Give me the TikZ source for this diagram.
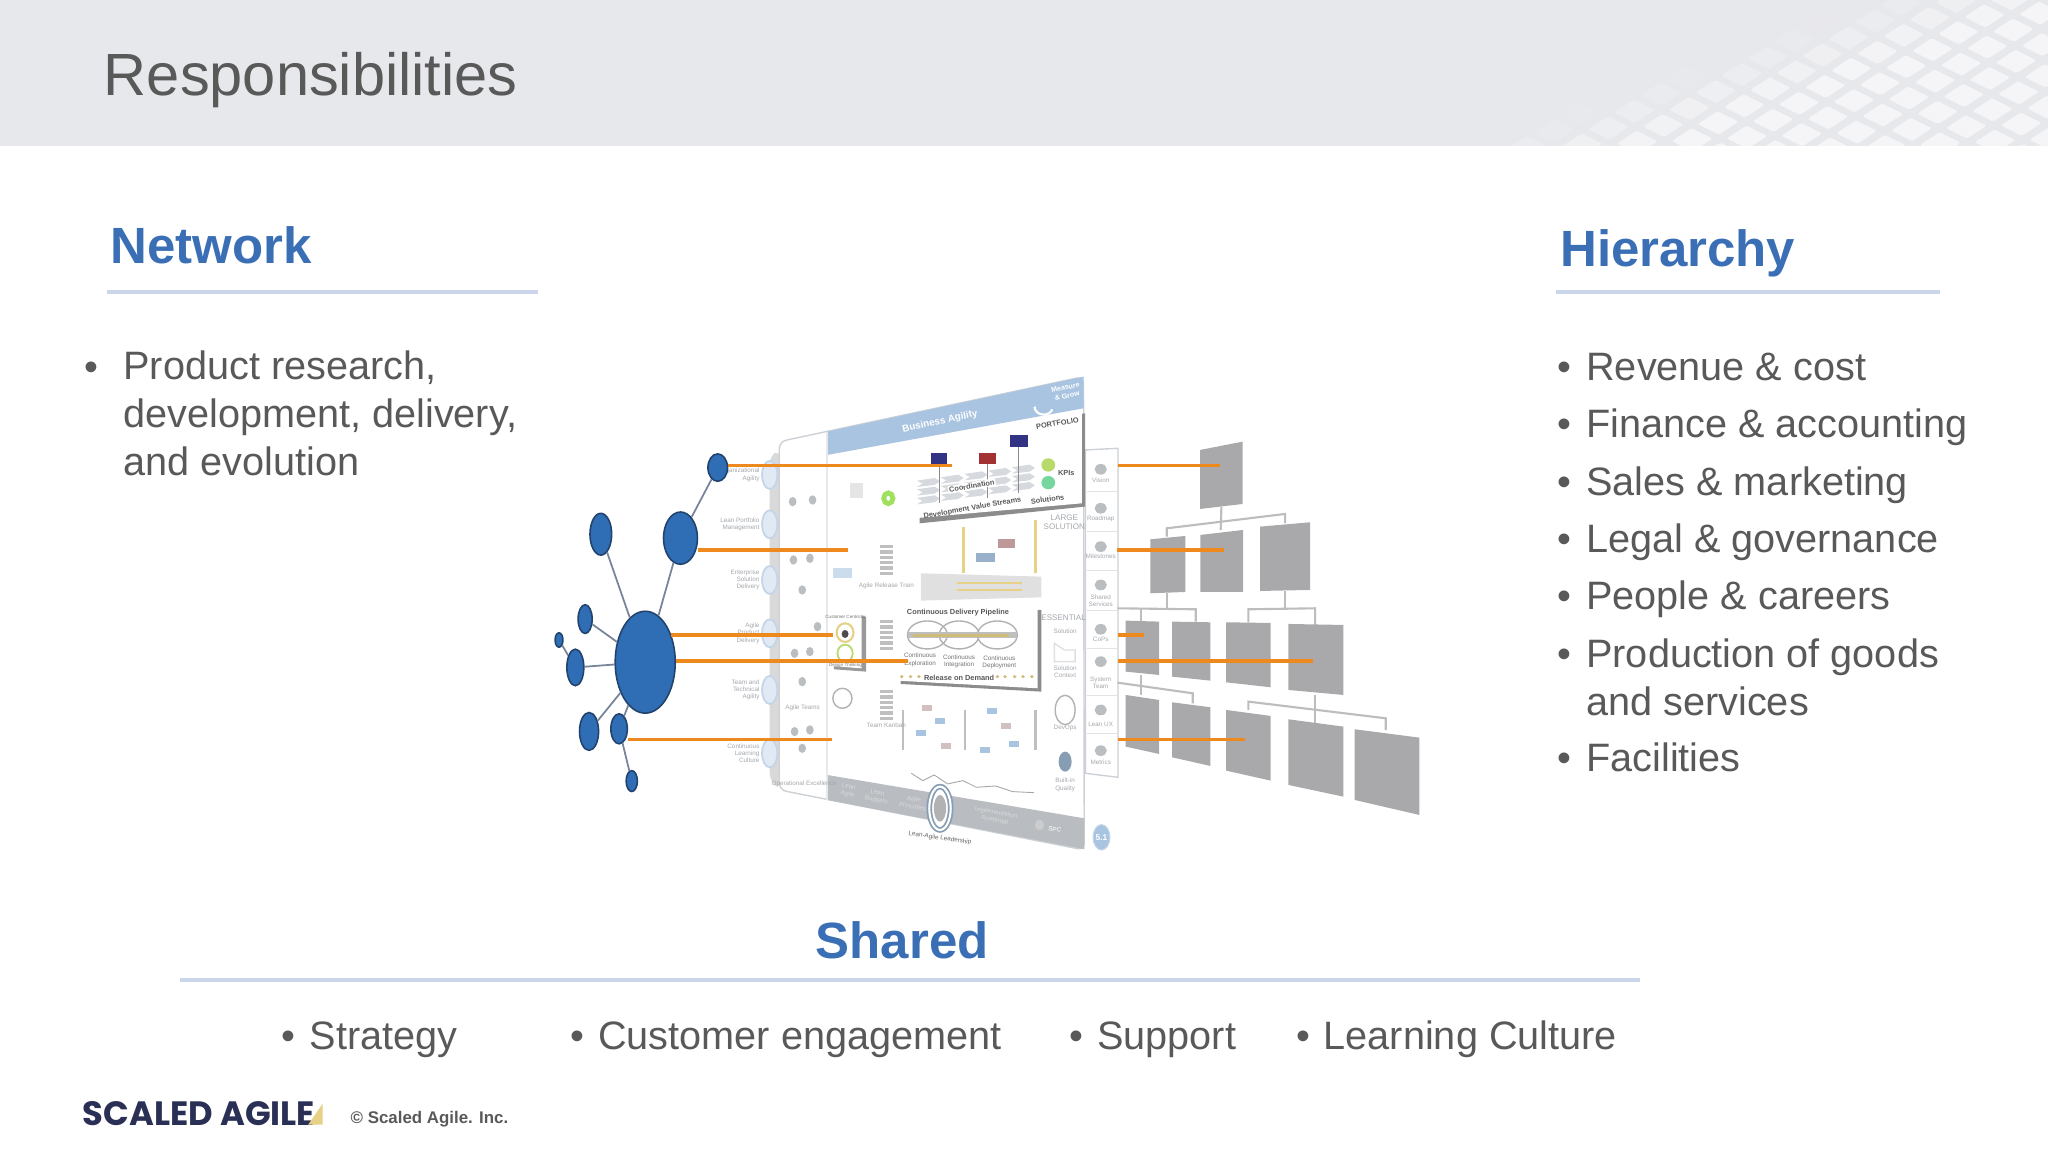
\documentclass[tikz,border=0pt]{standalone}
\usepackage{fontspec}
\setmainfont{Liberation Sans}
\newfontfamily\logofont{Poppins}
\usetikzlibrary{calc}
\usetikzlibrary{shapes.geometric}

\definecolor{headgrey}{HTML}{E7E8EC}
\definecolor{bodygrey}{HTML}{595959}
\definecolor{headblue}{HTML}{3A6EB5}
\definecolor{rulecol}{HTML}{CBD6EA}
\definecolor{netblue}{HTML}{2F6DB5}
\definecolor{netdark}{HTML}{21436E}
\definecolor{netedge}{HTML}{77849A}
\definecolor{linkorange}{HTML}{EE8A1D}
\definecolor{orggrey}{HTML}{A9A9AB}
\definecolor{orgline}{HTML}{BDBDBF}
\definecolor{bannerblue}{HTML}{A9C4E0}
\definecolor{bannergrey}{HTML}{B9BCC1}
\definecolor{panelline}{HTML}{CDD1D6}
\definecolor{faintgrey}{HTML}{A4A8AD}
\definecolor{softgold}{HTML}{E6D186}
\definecolor{logonavy}{HTML}{2A2F55}

\tikzset{
  titletext/.style={anchor=base west, inner sep=0, text=bodygrey, font=\fontsize{16.95}{20}\selectfont},
  headtext/.style={anchor=base west, inner sep=0, text=headblue, font=\fontsize{14.5}{18}\selectfont\bfseries},
  bodytext/.style={anchor=base west, inner sep=0, text=bodygrey, align=left, font=\fontsize{11.28}{13.6}\selectfont},
  bulletmark/.style={anchor=base, inner sep=0, text=bodygrey, font=\fontsize{11.28}{13.6}\selectfont},
  headrule/.style={rulecol, line width=1.1pt},
  netnode/.style={ellipse, draw=netdark, fill=netblue, line width=.45pt, inner sep=0},
  netsize/.style 2 args={minimum width=#1*.3716pt, minimum height=#2*.3716pt},
  netlink/.style={netedge, line width=.5pt},
  linkline/.style={linkorange, line width=1pt},
  orgbox/.style={fill=orggrey},
  orgbus/.style={orgline, line width=.6pt},
  tinytext/.style={inner sep=0, text=faintgrey, align=center, font=\fontsize{1.8}{2.1}\selectfont},
  boxtext/.style={inner sep=0, text=black!65, align=center, font=\fontsize{2.1}{2.5}\selectfont\bfseries},
  paneledge/.style={draw=panelline, line width=.4pt},
  iconmark/.style={fill=faintgrey!75},
}

\begin{document}
\begin{tikzpicture}[x=0.013061cm,y=-0.013061cm]
\useasboundingbox (0,0) rectangle (1568,882);
\fill[white] (0,0) rectangle (1568,882);

% header band
\fill[headgrey] (0,0) rectangle (1568,112);
\begin{scope}
\clip (0,0) rectangle (1568,112);
\foreach \i in {-10,...,15}
\foreach \j in {-10,...,12}
{
\pgfmathsetmacro{\px}{1360+20*\i+22*\j}
\pgfmathsetmacro{\py}{56-13*\i+11*\j}
\pgfmathsetmacro{\op}{max(0,min(.6,(\px+2.7*\py-1420)/220))}
\fill[white, opacity=\op, rounded corners=.6pt] (\px,\py) -- ++(15,-9.8) -- ++(16,8) -- ++(-15,9.8) -- cycle;
}
\end{scope}

\node[titletext] (title) at (79,73) {Responsibilities};

\node[headtext] (network) at (84,202) {Network};
\node[headtext] (hierarchy) at (1194,204) {Hierarchy};
\node[headtext] (shared) at (624,733.5) {Shared};

\draw[headrule] (82,223.5) -- (412,223.5);
\draw[headrule] (1191,223.5) -- (1485,223.5);
\draw[headrule] (138,750) -- (1256,750);

% network column
\node[bulletmark] (bl) at (70,291) {•};
\node[bodytext] (netlist) at (94,364) {Product research,\\development, delivery,\\and evolution};

% hierarchy column
\node[bulletmark] (br1) at (1198,291) {•};
\node[bodytext] (hl1) at (1214,291) {Revenue \& cost};
\node[bulletmark] (br2) at (1198,335) {•};
\node[bodytext] (hl2) at (1214,335) {Finance \& accounting};
\node[bulletmark] (br3) at (1198,379) {•};
\node[bodytext] (hl3) at (1214,379) {Sales \& marketing};
\node[bulletmark] (br4) at (1198,423) {•};
\node[bodytext] (hl4) at (1214,423) {Legal \& governance};
\node[bulletmark] (br5) at (1198,467) {•};
\node[bodytext] (hl5) at (1214,467) {People \& careers};
\node[bulletmark] (br6) at (1198,511) {•};
\node[bodytext] (hl6) at (1214,547.5) {Production of goods\\and services};
\node[bulletmark] (br7) at (1198,591) {•};
\node[bodytext] (hl7) at (1214,591) {Facilities};

% shared row
\foreach \xb/\xt/\word [count=\n] in {221/236.5/Strategy, 442/457.5/Customer engagement, 824/839.5/Support, 998/1013/Learning Culture}
{
\node[bulletmark] (bs\n) at (\xb,803.5) {•};
\node[bodytext] (sl\n) at (\xt,803.5) {\word};
}

% footer
\node[anchor=base west, inner sep=0, text=logonavy, font=\logofont\fontsize{9.6}{11}\selectfont\bfseries] (logo) at (63,862) {SCALED AGILE};
\fill[softgold] (236,861) -- (247,845) -- (247,861) -- cycle;
\node[anchor=base west, inner sep=0, text=bodygrey, font=\fontsize{4.8}{6}\selectfont\bfseries] (copy) at (268,860.5) {© Scaled Agile. Inc.};

% framework panel
\begin{scope}[shift={(413.5,275.6)},xscale=.293,yscale=.2552]
\fill[black!15, rounded corners=2pt] (625,270) -- (600,290) -- (600,1260) -- (625,1290) -- cycle;
\filldraw[white, paneledge, rounded corners=2pt] (625,245) -- (1420,50) -- (1422,1470) -- (625,1290) -- cycle;
\fill[bannerblue] (750,215) -- (1420,50) -- (1420,145) -- (750,285) -- cycle;
\fill[bannergrey] (750,1245) -- (1422,1375) -- (1422,1468) -- (750,1320) -- cycle;
\draw[panelline!50] (750,215) -- (750,1320);

% side column
\filldraw[white, paneledge] (1425,270) -- (1510,265) -- (1510,1252) -- (1425,1240) -- cycle;
\foreach \y in {395,515,630,750,865,1005,1120}
\draw[panelline!60, line width=.25pt] (1428,\y) -- (1508,\y);
\foreach \y/\word in {362/Vision, 478/Roadmap, 588/Milestones, 722/{Shared\\Services}, 838/CoPs, 968/{System\\Team}, 1093/Lean UX, 1207/Metrics}
\node[tinytext] at (1465,\y) {\word};
\foreach \y in {328,445,560,675,808,905,1050,1172}
\fill[iconmark] (1465,\y) ellipse (16 and 16);

% competency rings
\foreach \y/\word in {345/{Organizational\\Agility}, 493/{Lean Portfolio\\Management}, 660/{Enterprise\\Solution\\Delivery}, 820/{Agile\\Product\\Delivery}, 990/{Team and\\Technical\\Agility}, 1180/{Continuous\\Learning\\Culture}}
{
\filldraw[fill=bannerblue!35, draw=bannerblue!70!white, line width=.5pt] (600,\y) ellipse (20 and 42);
\node[tinytext, anchor=east, align=right] at (575,\y) {\word};
}

% portfolio box
\fill[black!45] (992,262) -- (1424,160) -- (1424,440) -- (992,490) -- cycle;
\fill[white] (978,240) -- (1416,150) -- (1416,430) -- (978,475) -- cycle;
\foreach \r in {0,1,2}
\foreach \c in {0,...,4}
{
\pgfmathsetmacro{\cx}{985+62*\c}
\pgfmathsetmacro{\cy}{362-10*\c+26*\r}
\fill[bannerblue!55!black!25] (\cx,\cy) -- ++(46,-8) -- ++(14,10) -- ++(-14,11) -- ++(-46,6) -- ++(14,-10) -- cycle;
}
\draw[black!45, line width=.3pt] (1043,300) -- (1043,430);
\draw[black!45, line width=.3pt] (1170,300) -- (1170,415);
\draw[black!45, line width=.3pt] (1250,245) -- (1250,400);
\fill[blue!40!black!80] (1022,280) rectangle (1064,312);
\fill[red!55!black!80] (1148,278) rectangle (1192,312);
\fill[blue!40!black!80] (1228,225) rectangle (1276,262);
\node[boxtext, rotate=10] at (1352,190) {PORTFOLIO};
\node[boxtext] at (1375,340) {KPIs};
\node[boxtext, rotate=8] at (1326,418) {Solutions};
\node[boxtext, rotate=10] at (1130,445) {Development Value Streams};
\node[boxtext, rotate=10, fill=white, inner sep=.3pt] at (1128,378) {Coordination};
\fill[softgold!80!green] (1328,315) circle (18 and 20);
\fill[bannerblue!70!green] (1328,368) circle (18 and 20);

\node[inner sep=0, text=white, font=\fontsize{2.8}{3.2}\selectfont\bfseries, rotate=12] at (1045,185) {Business Agility};
\node[inner sep=0, text=white, align=center, font=\fontsize{2}{2.4}\selectfont\bfseries, rotate=12] at (1375,95) {Measure\\\& Grow};
\draw[white, line width=.6pt] (1292,140) arc (180:20:24 and 24);

% large solution band
\draw[softgold, line width=.8pt] (1107,500) -- (1107,640);
\draw[softgold, line width=.8pt] (1295,480) -- (1295,640);
\fill[black!12] (995,640) -- (1310,650) -- (1310,712) -- (995,722) -- cycle;
\draw[softgold, line width=.6pt] (1090,668) -- (1260,668);
\draw[softgold, line width=.6pt] (1090,690) -- (1260,690);
\fill[bannerblue!90!black] (1138,578) rectangle (1190,605);
\fill[red!35!black!40] (1196,538) rectangle (1240,565);
\node[tinytext, font=\fontsize{2.3}{2.8}\selectfont] at (1370,487) {LARGE\\SOLUTION};
\node[tinytext, font=\fontsize{2.3}{2.8}\selectfont] at (1368,772) {ESSENTIAL};

% pipeline box
\fill[black!45] (942,755) -- (1310,750) -- (1310,995) -- (942,972) -- cycle;
\fill[white] (932,745) -- (1300,740) -- (1300,985) -- (932,962) -- cycle;
\foreach \x in {1012,1095,1195}
\draw[black!30, line width=.4pt] (\x,825) ellipse (52 and 42);
\draw[black!25, line width=1.6pt] (962,826) -- (1245,826);
\draw[softgold!90!black, line width=.9pt] (975,826) -- (1225,826);
\foreach \x in {945,968,990,1195,1215,1240,1262,1285}
\fill[softgold!90!black] (\x,950) circle (5 and 5);
\node[boxtext] at (1095,953) {Release on Demand};
\node[boxtext] at (1092,757) {Continuous Delivery Pipeline};
\node[tinytext, text=black!55] at (993,900) {Continuous\\Exploration};
\node[tinytext, text=black!55] at (1095,905) {Continuous\\Integration};
\node[tinytext, text=black!55] at (1200,908) {Continuous\\Deployment};

% customer box
\fill[black!40] (768,760) -- (852,770) -- (852,935) -- (768,928) -- cycle;
\fill[white] (760,750) -- (840,760) -- (840,925) -- (760,918) -- cycle;
\node[tinytext, text=black!55, font=\fontsize{1.3}{1.6}\selectfont] at (798,772) {Customer Centricity};
\draw[softgold, line width=.6pt] (797,818) ellipse (22 and 28);
\fill[black!70] (797,822) ellipse (9 and 12);
\draw[softgold!80!green, line width=.5pt] (797,880) ellipse (20 and 26);
\node[tinytext, text=black!55, font=\fontsize{1.3}{1.6}\selectfont] at (798,915) {Design Thinking};

% team stacks, icons and faint notes
\foreach \y in {600,825,1035}
\foreach \d in {-40,-24,...,40}
\fill[black!25] (888,\y+\d-5) rectangle (922,\y+\d+5);
\foreach \x/\y in {660/425,712/420,662/600,705/595,685/690,665/880,705/875,685/965,665/1115,705/1110,685/1165,725/800}
\fill[iconmark] (\x,\y) circle (10 and 14);
\fill[black!10] (810,370) rectangle (845,415);
\fill[bannerblue!60!white] (765,625) rectangle (815,655);
\draw[softgold!70!green, line width=1.4pt] (910,415) circle (12 and 16);
\draw[black!30, line width=.4pt] (790,1015) circle (25 and 30);
\foreach \x/\y/\tagcol in {1010/1043/red!30!black!25, 1045/1082/bannerblue, 995/1118/bannerblue, 1060/1157/red!30!black!25, 1182/1054/bannerblue, 1218/1098/red!30!black!25, 1163/1170/bannerblue, 1238/1152/bannerblue}
\fill[\tagcol] (\x-13,\y-9) rectangle (\x+13,\y+9);
\foreach \x in {948,1110,1295}
\draw[black!25, line width=.7pt] (\x,1050) -- (\x,1170);
\draw[black!35, line width=.25pt] (970,1240) -- (1000,1262) -- (1030,1245) -- (1065,1272) -- (1105,1262) -- (1140,1282) -- (1190,1278) -- (1235,1295) -- (1290,1298);

\node[tinytext] at (686,1045) {Agile Teams};
\node[tinytext] at (690,1272) {Operational Excellence};
\node[tinytext] at (905,678) {Agile Release Train};
\node[tinytext] at (905,1095) {Team Kanban};
\node[tinytext] at (1372,815) {Solution};
\node[tinytext] at (1372,935) {Solution\\Context};
\node[tinytext] at (1372,1105) {DevOps};
\node[tinytext] at (1372,1275) {Built-in\\Quality};
\draw[black!30, line width=.4pt] (1372,1050) circle (26 and 44);
\filldraw[fill=white, draw=black!12, line width=.4pt] (1370,870) -- (1398,870) -- (1398,905) -- (1344,905) -- (1344,850) -- cycle;
\fill[bannerblue!80!black] (1372,1205) circle (17 and 30);

% bottom banner items
\filldraw[fill=white, draw=bannerblue!80!black, double=white, line width=.5pt] (1045,1345) ellipse (28 and 65);
\fill[black!30] (1045,1345) ellipse (16 and 40);
\node[tinytext, text=black!60, rotate=-8] at (1045,1435) {Lean-Agile Leadership};
\foreach \x/\y/\word in {805/1292/Lean\\Agile, 880/1310/Lean\\Budgets, 975/1330/Agile\\Principles, 1190/1370/Implementation\\Roadmap}
\node[tinytext, text=white!85!black, rotate=-10] at (\x,\y) {\word};
\node[tinytext, text=white, rotate=-10] at (1345,1408) {SPC};
\fill[white!80!black] (1305,1395) circle (12 and 16);
\filldraw[fill=bannerblue, draw=bannerblue!70!white, line width=.3pt] (1467,1432) ellipse (22 and 38);
\node[inner sep=0, text=white, font=\fontsize{2.4}{3}\selectfont\bfseries] at (1467,1432) {5.1};
\end{scope}

% org chart
\begin{scope}[shift={(796.3,275.6)},scale=.2552]
\draw[orgbus] (544,440) -- (542,510);
\draw[orgbus] (380,530) -- (380,505) -- (735,462) -- (735,490);
\draw[orgbus] (382,700) -- (382,746);
\draw[orgbus] (232,745) -- (467,748) -- (467,785);
\draw[orgbus] (304,746) -- (304,782);
\draw[orgbus] (735,692) -- (735,746);
\draw[orgbus] (625,787) -- (625,748) -- (825,745) -- (825,795);
\draw[orgbus] (304,945) -- (304,1005);
\draw[orgbus] (232,968) -- (458,1000) -- (458,1030);
\draw[orgbus] (825,1005) -- (825,1088);
\draw[orgbus] (625,1050) -- (625,1025) -- (1037,1075) -- (1037,1110);
\foreach \xa/\xb/\ya/\yb/\yc/\yd in {
480/608/270/245/432/447,
331/436/538/528/696/700, 481/609/525/510/696/696, 660/810/500/487/690/693,
257/357/782/785/945/935, 396/511/785/787/962/950, 558/692/787/789/982/967, 745/910/792/795/1005/990,
257/357/1005/1020/1182/1160, 396/511/1027/1042/1218/1192, 558/692/1050/1068/1262/1232, 745/910/1078/1100/1310/1275, 944/1138/1108/1133/1365/1320}
\fill[orgbox] (\xa,\ya) -- (\xb,\yb) -- (\xb,\yc) -- (\xa,\yd) -- cycle;
\end{scope}

% network
\node[netnode, netsize={46}{78}] (hub) at (494,507) {};
\node[netnode, netsize={26}{40}] (mid) at (521,412) {};
\node[netnode, netsize={15}{21}] (top) at (549.5,358) {};
\node[netnode, netsize={16.6}{32}] (upper) at (460,409) {};
\node[netnode, netsize={10.8}{22}] (west) at (448,474) {};
\node[netnode, netsize={6}{11}] (tip) at (428,490) {};
\node[netnode, netsize={13}{28}] (side) at (440.5,511) {};
\node[netnode, netsize={14.6}{29}] (low) at (451,560) {};
\node[netnode, netsize={12.6}{23}] (foot) at (474,558) {};
\node[netnode, netsize={8.6}{16}] (end) at (483.7,598) {};

\draw[netlink] (top) -- (mid);
\draw[netlink] (mid) -- (hub);
\draw[netlink] (upper) -- (hub);
\draw[netlink] (west) -- (hub);
\draw[netlink] (tip) -- (side);
\draw[netlink] (side) -- (hub);
\draw[netlink] (low) -- (hub);
\draw[netlink] (foot) -- (hub);
\draw[netlink] (foot) -- (end);

% orange links
\coordinate (a1) at (729,356.5);
\coordinate (a2) at (649,421);
\coordinate (a3) at (638,486);
\coordinate (a4) at (695,506);
\coordinate (a5) at (637,566);
\coordinate (c1) at (856,356.5);
\coordinate (c2) at (855,421);
\coordinate (c3) at (856,486);
\coordinate (c4) at (856,506);
\coordinate (c5) at (856,566);
\coordinate (o1) at (934,356.5);
\coordinate (o2) at (937,421);
\coordinate (o3) at (876,486);
\coordinate (o4) at (1005,506);
\coordinate (o5) at (953,566);

\draw[linkline] (top.east |- a1) -- (a1);
\draw[linkline] (mid.east |- a2) -- (a2);
\draw[linkline] (hub.47 |- a3) -- (a3);
\draw[linkline] (hub.east |- a4) -- (a4);
\draw[linkline] (foot.east |- a5) -- (a5);
\foreach \n in {1,...,5}
\draw[linkline] (c\n) -- (o\n);

\end{tikzpicture}
\end{document}
